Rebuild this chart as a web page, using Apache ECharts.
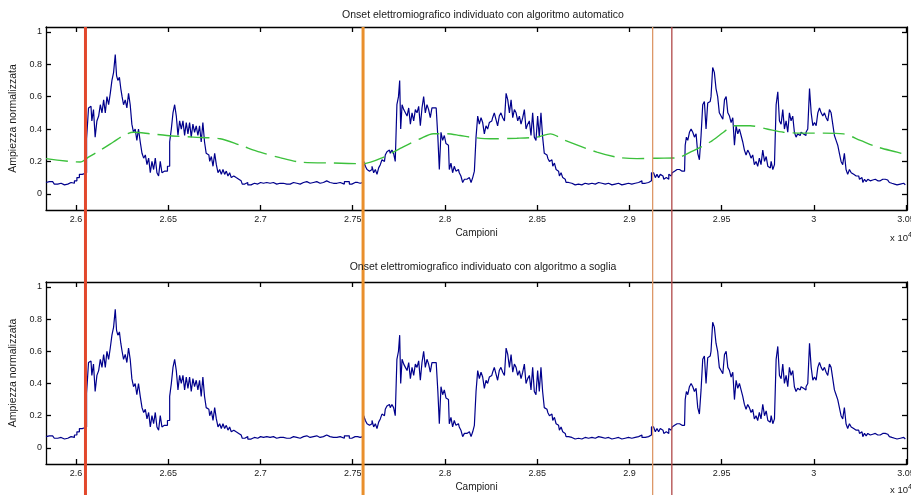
<!DOCTYPE html>
<html><head><meta charset="utf-8">
<script src="https://cdn.jsdelivr.net/npm/echarts@6/dist/echarts.min.js"></script>
<style>html,body{margin:0;padding:0;background:#fff}#c{width:911px;height:495px}</style>
</head><body><div id="c"></div>
<script>
// EMG envelope signal (samples, normalized amplitude)
const emgX = [
25837,25855,25873,25891,25910,25928,25946,25964,25982,26000,26009,26027,26040,26051,
26063,26072,26081,26090,26099,26108,26118,26127,26136,26145,26154,26163,26172,26181,26190,
26199,26208,26217,26222,26231,26239,26246,26253,26262,26271,26280,26289,26298,26307,26316,
26325,26334,26343,26353,26362,26371,26380,26389,26398,26407,26416,26425,26434,26443,26452,
26461,26470,26479,26488,26503,26512,26521,26530,26539,26548,26557,26566,26575,26584,26593,
26602,26611,26620,26629,26638,26647,26656,26665,26674,26683,26692,26701,26710,26720,26729,
26738,26747,26756,26765,26774,26783,26792,26801,26810,26819,26828,26837,26846,26855,26868,
26882,26895,26907,26922,26940,26958,26976,26994,
27007,27025,27043,27061,27079,27097,27115,27133,27152,27170,27188,27206,27224,27242,27260,
27278,27296,27314,27332,27350,27368,27386,27405,27423,27441,27468,27495,27513,27540,27555,
27564,27573,27582,27591,27600,27609,27618,27627,27636,27645,27654,27663,27672,27681,27690,
27699,27708,27717,27726,27735,27744,27752,27757,27763,27772,27781,27790,27799,27808,27817,
27826,27835,27844,27853,27862,27871,27880,27889,27898,27907,27916,27925,27934,27947,27958,
27965,27974,27983,27992,28001,28010,28019,28028,28037,28046,28055,28064,28073,28082,28091,
28101,28110,28128,
28137,28146,28155,28164,28173,28182,28191,28200,28209,28218,28227,28236,28245,28254,28263,
28272,28281,28290,28299,28308,28318,28327,28336,28345,28354,28363,28372,28381,28390,28399,
28408,28417,28426,28435,28444,28453,28462,28471,28480,28489,28498,28507,28516,28525,28534,
28543,28553,28562,28571,28580,28589,28598,28607,28616,28625,28634,28643,28652,28661,28679,
28697,28715,28733,28751,28769,28788,28806,28824,28842,28860,28878,28896,28914,28932,28950,
28968,28986,29004,29022,29041,29059,29077,29095,29113,29126,29136,29145,29154,29163,29172,
29182,29191,29200,29209,29218,29227,29236,29245,29254,29263,29272,29281,29290,29299,
29306,29312,29321,29330,29339,29348,29357,29366,29375,29384,29393,29402,29411,29420,29429,
29438,29447,29456,29465,29474,29483,29492,29502,29511,29520,29529,29538,29547,29556,29565,
29574,29583,29592,29601,29610,29619,29628,29637,29646,29655,29664,29673,29682,29691,29700,
29709,29718,29728,29737,29746,29755,29764,29773,29782,29791,29800,29809,29818,29827,29836,
29845,29854,29863,29872,29881,29890,29899,29908,29917,29926,29935,29944,29953,29962,29972,
29981,29990,29999,30008,30017,30026,30035,30044,30053,30062,30071,30080,30089,30098,30107,
30116,30125,30134,30143,30152,30161,30170,30179,30188,30198,30207,30216,30225,30234,30243,
30252,30261,30270,30279,30288,30297,30306,30315,30324,30333,30342,30351,30360,30369,30378,
30387,30396,30405,30414,30423,30433,30442,30460,30478,30496];
const emgY = [
0.07,0.075,0.075,0.06,0.065,0.055,0.06,0.07,0.065,0.08,0.1,0.12,0.125,0.13,
0.34,0.53,0.54,0.45,0.52,0.35,0.45,0.48,0.55,0.5,0.58,0.5,0.6,0.55,0.62,
0.7,0.75,0.86,0.73,0.7,0.72,0.65,0.6,0.55,0.58,0.53,0.62,0.55,0.43,0.38,
0.4,0.33,0.4,0.32,0.25,0.22,0.24,0.18,0.22,0.13,0.2,0.15,0.22,0.13,0.11,
0.2,0.13,0.14,0.14,0.17,0.32,0.4,0.5,0.55,0.48,0.36,0.45,0.4,0.45,0.36,
0.44,0.37,0.44,0.35,0.43,0.38,0.42,0.36,0.42,0.32,0.44,0.32,0.25,0.24,0.2,
0.23,0.17,0.25,0.18,0.13,0.15,0.12,0.15,0.12,0.14,0.11,0.13,0.1,0.11,0.1,
0.09,0.08,0.06,0.07,0.055,0.065,0.06,0.07,
0.065,0.07,0.065,0.07,0.06,0.065,0.065,0.06,0.06,0.07,0.065,0.06,0.07,0.075,0.065,
0.07,0.075,0.065,0.07,0.08,0.07,0.065,0.065,0.07,0.06,0.075,0.06,0.07,0.065,0.07,
0.2,0.17,0.15,0.14,0.15,0.17,0.13,0.15,0.12,0.16,0.18,0.21,0.2,0.24,0.26,
0.27,0.25,0.27,0.25,0.2,0.55,0.6,0.7,0.4,0.55,0.52,0.5,0.48,0.53,0.43,
0.5,0.45,0.52,0.5,0.54,0.42,0.53,0.6,0.5,0.55,0.52,0.47,0.53,0.53,0.53,
0.35,0.15,0.38,0.33,0.36,0.31,0.3,0.15,0.19,0.13,0.17,0.14,0.15,0.13,0.11,
0.07,0.09,0.1,
0.09,0.07,0.1,0.14,0.35,0.48,0.43,0.47,0.44,0.37,0.42,0.4,0.44,0.45,0.47,
0.5,0.46,0.42,0.48,0.5,0.47,0.45,0.62,0.58,0.5,0.58,0.47,0.52,0.5,0.45,
0.48,0.43,0.47,0.52,0.4,0.43,0.45,0.36,0.5,0.35,0.33,0.48,0.35,0.5,0.35,
0.25,0.24,0.22,0.2,0.21,0.17,0.19,0.15,0.14,0.11,0.13,0.1,0.09,0.07,0.065,
0.055,0.06,0.055,0.065,0.06,0.065,0.06,0.07,0.065,0.06,0.065,0.055,0.06,0.065,0.055,
0.06,0.065,0.06,0.065,0.07,0.08,0.065,0.07,0.08,0.13,0.12,0.1,0.12,0.1,0.12,
0.11,0.09,0.1,0.09,0.12,0.11,0.13,0.14,0.15,0.16,0.15,0.14,0.15,0.14,
0.3,0.35,0.33,0.38,0.4,0.38,0.35,0.37,0.25,0.21,0.36,0.55,0.57,0.4,0.56,
0.57,0.6,0.78,0.75,0.65,0.6,0.5,0.48,0.46,0.58,0.6,0.5,0.48,0.44,0.47,
0.3,0.42,0.37,0.4,0.36,0.32,0.27,0.24,0.27,0.25,0.22,0.24,0.18,0.2,0.17,
0.22,0.18,0.27,0.2,0.23,0.17,0.16,0.2,0.15,0.18,0.55,0.63,0.45,0.43,0.52,
0.4,0.45,0.38,0.5,0.45,0.48,0.38,0.35,0.37,0.36,0.38,0.37,0.36,0.38,0.4,
0.65,0.5,0.42,0.44,0.42,0.5,0.53,0.5,0.48,0.5,0.47,0.45,0.52,0.5,0.43,
0.36,0.33,0.3,0.25,0.2,0.18,0.25,0.15,0.12,0.15,0.13,0.12,0.11,0.1,0.11,
0.09,0.1,0.07,0.09,0.075,0.09,0.08,0.085,0.075,0.09,0.08,0.085,0.08,0.09,0.08,
0.09,0.085,0.075,0.07,0.065,0.06,0.055,0.06,0.065,0.055];
// automatic-algorithm curve (green, top plot only)
const envX = [25837,26022,26067,26130,26202,26257,26311,26401,26492,26636,26781,26889,26998,27106,27215,
27396,27558,27665,27774,27866,27937,28010,28082,28137,28245,28390,28498,28571,28650,28824,
28932,29041,29149,29258,29330,29438,29510,29565,29655,29746,29836,29944,30053,30161,30252,
30342,30451,30505];
const envY = [0.217,0.196,0.226,0.268,0.32,0.36,0.38,0.371,0.36,0.35,0.34,0.30,0.257,0.223,0.196,
0.19,0.186,0.225,0.29,0.34,0.371,0.371,0.36,0.35,0.34,0.343,0.35,0.37,0.33,0.257,
0.226,0.217,0.22,0.222,0.257,0.32,0.38,0.42,0.42,0.40,0.38,0.375,0.375,0.37,0.33,
0.29,0.257,0.24];
// detected onsets
const onsetX = [26051, 27556, 29126, 29230];
const onsetColor = ['#e2482c', '#e98f2c', '#dd9868', '#b04848'];
const onsetWidth = [3, 3, 1.3, 1.3];
// ticks
const xTicks = [26000,26500,27000,27500,28000,28500,29000,29500,30000,30500];
const xTickLabels = ['2.6','2.65','2.7','2.75','2.8','2.85','2.9','2.95','3','3.05'];
const yTicks = [0,0.2,0.4,0.6,0.8,1];
const yTickLabels = ['0','0.2','0.4','0.6','0.8','1'];
const titles = ['Onset elettromiografico individuato con algoritmo automatico',
                'Onset elettromiografico individuato con algoritmo a soglia'];

const FONT = 'Liberation Sans';
const TXT = '#1a1a1a';
const X_MIN = 25837, X_MAX = 30505, Y_MIN = -0.1, Y_MAX = 1.03;

const chart = echarts.init(document.getElementById('c'), null, {renderer: 'canvas'});

const grids = [
  {left: 46, right: 4, top: 27, height: 183, outerBoundsMode: 'none', containLabel: false},
  {left: 46, right: 4, top: 282, height: 182, outerBoundsMode: 'none', containLabel: false},
  {left: 46, right: 4, top: 27, bottom: 0, outerBoundsMode: 'none', containLabel: false}
];

function xAx(grid, pos, labels) {
  return {
    type: 'value', gridIndex: grid, position: pos, min: X_MIN, max: X_MAX,
    axisLine: {show: true, onZero: false, lineStyle: {color: '#000', width: 1.3}},
    axisTick: {show: true, inside: true, length: 5, customValues: xTicks, lineStyle: {color: '#000', width: 1.3}},
    axisLabel: {show: labels, customValues: xTicks, margin: 5, fontFamily: FONT, fontSize: 9, color: TXT,
      formatter: v => { const i = xTicks.indexOf(Math.round(v)); return i >= 0 ? xTickLabels[i] : ''; }},
    splitLine: {show: false},
    name: labels ? 'Campioni' : '', nameLocation: 'middle', nameGap: 18,
    nameTextStyle: {fontFamily: FONT, fontSize: 10, color: TXT}
  };
}
function yAx(grid, pos, labels) {
  return {
    type: 'value', gridIndex: grid, position: pos, min: Y_MIN, max: Y_MAX,
    axisLine: {show: true, onZero: false, lineStyle: {color: '#000', width: 1.3}},
    axisTick: {show: true, inside: true, length: 5, customValues: yTicks, lineStyle: {color: '#000', width: 1.3}},
    axisLabel: {show: labels, customValues: yTicks, margin: 4, fontFamily: FONT, fontSize: 9, color: TXT,
      formatter: v => { let i = -1; yTicks.forEach((t, k) => { if (Math.abs(t - v) < 1e-6) i = k; }); return i >= 0 ? yTickLabels[i] : ''; }},
    splitLine: {show: false},
    name: labels ? 'Ampiezza normalizzata' : '', nameLocation: 'middle', nameGap: 20, nameRotate: 90,
    nameTextStyle: {fontFamily: FONT, fontSize: 10.5, color: TXT}
  };
}

const emgData = emgX.map((x, i) => [x, emgY[i]]);
const envData = envX.map((x, i) => [x, envY[i]]);

const series = [];
[0, 1].forEach(p => {
  series.push({
    type: 'line', xAxisIndex: p * 2, yAxisIndex: p * 2, data: emgData, step: 'middle',
    showSymbol: false, silent: true, clip: true,
    lineStyle: {color: '#00008c', width: 1.2}, z: 2
  });
});
series.push({
  type: 'line', xAxisIndex: 0, yAxisIndex: 0, data: envData, smooth: 0.3,
  showSymbol: false, silent: true, clip: true,
  lineStyle: {color: '#3cc03c', width: 1.4, type: [22, 8]}, z: 3
});
onsetX.forEach((x, i) => {
  series.push({
    type: 'line', xAxisIndex: 4, yAxisIndex: 4, data: [[x, 0], [x, 1]],
    showSymbol: false, silent: true,
    lineStyle: {color: onsetColor[i], width: onsetWidth[i]}, z: 5
  });
});

chart.setOption({
  animation: false,
  backgroundColor: '#fff',
  title: titles.map((t, i) => ({
    text: t, left: 478, top: i === 0 ? 5 : 257, textAlign: 'center',
    textStyle: {fontFamily: FONT, fontSize: 10.5, fontWeight: 'normal', color: TXT}
  })),
  grid: grids,
  xAxis: [xAx(0, 'bottom', true), xAx(0, 'top', false), xAx(1, 'bottom', true), xAx(1, 'top', false),
    {type: 'value', gridIndex: 2, min: X_MIN, max: X_MAX, show: false}],
  yAxis: [yAx(0, 'left', true), yAx(0, 'right', false), yAx(1, 'left', true), yAx(1, 'right', false),
    {type: 'value', gridIndex: 2, min: 0, max: 1, show: false}],
  graphic: [232, 484].map(t => ({
    type: 'text', left: 890, top: t, silent: true,
    style: {text: 'x 10{s|4}', fontFamily: FONT, fontSize: 9.5, fill: TXT,
      rich: {s: {fontSize: 7, verticalAlign: 'top', padding: [0, 0, 5, 0], fontFamily: FONT, fill: TXT}}}
  })),
  series: series
});
</script>
</body></html>
